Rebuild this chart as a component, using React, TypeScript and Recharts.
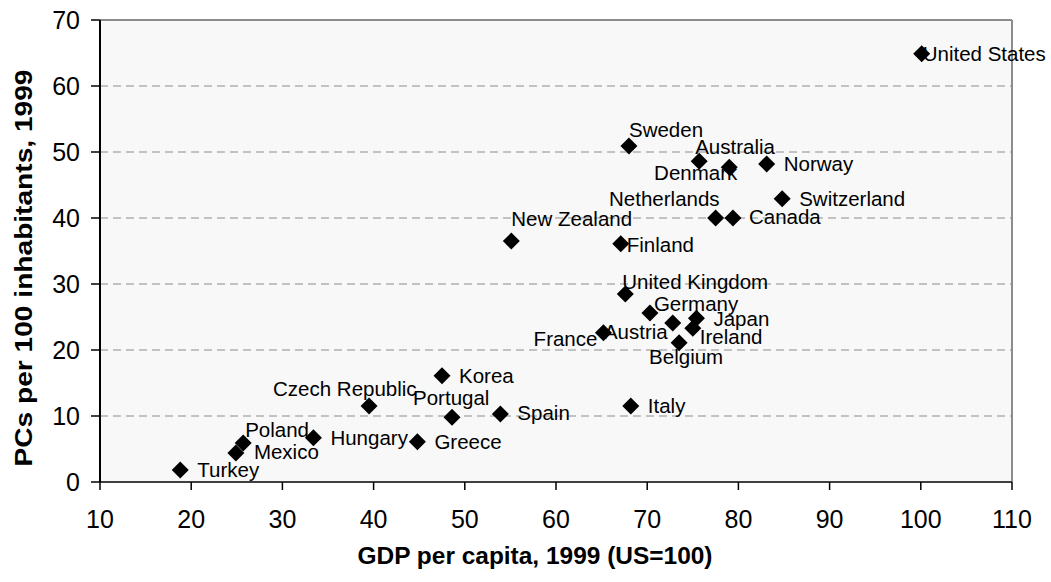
import React from 'react';
import { ScatterChart, Scatter, XAxis, YAxis, CartesianGrid, ReferenceLine, Label } from 'recharts';

const countries = [
  'United States', 'Sweden', 'Australia', 'Denmark', 'Norway', 'Switzerland', 'Netherlands', 'Canada',
  'New Zealand', 'Finland', 'United Kingdom', 'Germany', 'Austria', 'France', 'Japan', 'Ireland',
  'Belgium', 'Italy', 'Korea', 'Czech Republic', 'Portugal', 'Spain', 'Hungary', 'Greece',
  'Poland', 'Mexico', 'Turkey',
];
const gdpPerCapita = [
  100.1, 68.0, 75.7, 79.0, 83.1, 84.8, 77.5, 79.4,
  55.1, 67.1, 67.6, 70.3, 72.8, 65.2, 75.4, 75.0,
  73.5, 68.2, 47.5, 39.5, 48.6, 53.9, 33.4, 44.8,
  25.7, 24.9, 18.8,
];
const pcsPer100 = [
  64.9, 50.9, 48.6, 47.7, 48.2, 42.9, 40.0, 40.0,
  36.5, 36.1, 28.5, 25.6, 24.1, 22.6, 24.8, 23.3,
  21.1, 11.5, 16.1, 11.5, 9.8, 10.3, 6.7, 6.1,
  5.9, 4.4, 1.8,
];
const xTicks = [10, 20, 30, 40, 50, 60, 70, 80, 90, 100, 110];
const yTicks = [0, 10, 20, 30, 40, 50, 60, 70];

const data = countries.map((name, i) => ({ name, x: gdpPerCapita[i], y: pcsPer100[i] }));

// label placement relative to the marker (style only)
const labelPlacement: Record<string, { dx: number; dy: number; anchor: 'start' | 'end' }> = {
  'United States': { dx: 1, dy: 0, anchor: 'start' },
  Sweden: { dx: 0, dy: -16, anchor: 'start' },
  Australia: { dx: -4, dy: -14, anchor: 'start' },
  Denmark: { dx: 8, dy: 6, anchor: 'end' },
  Norway: { dx: 17, dy: 0, anchor: 'start' },
  Switzerland: { dx: 17, dy: 0, anchor: 'start' },
  Netherlands: { dx: 4, dy: -19, anchor: 'end' },
  Canada: { dx: 16, dy: -1, anchor: 'start' },
  'New Zealand': { dx: 0, dy: -22, anchor: 'start' },
  Finland: { dx: 6, dy: 1, anchor: 'start' },
  'United Kingdom': { dx: -3, dy: -12, anchor: 'start' },
  Germany: { dx: 4, dy: -9, anchor: 'start' },
  Austria: { dx: -5, dy: 9, anchor: 'end' },
  France: { dx: -6, dy: 6, anchor: 'end' },
  Japan: { dx: 17, dy: 1, anchor: 'start' },
  Ireland: { dx: 7, dy: 9, anchor: 'start' },
  Belgium: { dx: -30, dy: 14, anchor: 'start' },
  Italy: { dx: 17, dy: 0, anchor: 'start' },
  Korea: { dx: 17, dy: 0, anchor: 'start' },
  'Czech Republic': { dx: -96, dy: -17, anchor: 'start' },
  Portugal: { dx: -39, dy: -19, anchor: 'start' },
  Spain: { dx: 17, dy: -1, anchor: 'start' },
  Hungary: { dx: 17, dy: 0, anchor: 'start' },
  Greece: { dx: 17, dy: 0, anchor: 'start' },
  Poland: { dx: 2, dy: -13, anchor: 'start' },
  Mexico: { dx: 18, dy: -1, anchor: 'start' },
  Turkey: { dx: 17, dy: 0, anchor: 'start' },
};

const FONT = '"Liberation Sans", Arial, Helvetica, sans-serif';

const DiamondWithLabel = (props: any) => {
  const { cx, cy, payload } = props;
  const p = labelPlacement[payload.name] || { dx: 17, dy: 0, anchor: 'start' };
  const r = 8.5;
  return (
    <g>
      <polygon points={`${cx},${cy - r} ${cx + r},${cy} ${cx},${cy + r} ${cx - r},${cy}`} fill="#000" />
      <text
        x={cx + p.dx}
        y={cy + p.dy}
        dy="0.35em"
        textAnchor={p.anchor}
        fontSize={20.5}
        fontFamily={FONT}
        fill="#000"
      >
        {payload.name}
      </text>
    </g>
  );
};

const XTitle = (props: any) => {
  const vb = props.viewBox || { x: 100, y: 482, width: 912, height: 100 };
  return (
    <text
      x={vb.x + vb.width / 2 - 21}
      y={vb.y + 74}
      dy="0.35em"
      textAnchor="middle"
      fontSize={23}
      fontWeight="bold"
      fontFamily={FONT}
      fill="#000"
      textLength={355}
      lengthAdjust="spacingAndGlyphs"
    >
      GDP per capita, 1999 (US=100)
    </text>
  );
};

const YTitle = (props: any) => {
  const vb = props.viewBox || { x: 0, y: 20, width: 100, height: 462 };
  const cx = vb.x + 24;
  const cy = vb.y + vb.height / 2 + 17;
  return (
    <text
      x={cx}
      y={cy}
      dy="0.35em"
      textAnchor="middle"
      transform={`rotate(-90 ${cx} ${cy})`}
      fontSize={23}
      fontWeight="bold"
      fontFamily={FONT}
      fill="#000"
      textLength={397}
      lengthAdjust="spacingAndGlyphs"
    >
      PCs per 100 inhabitants, 1999
    </text>
  );
};

export default function App() {
  return (
    <div style={{ position: 'absolute', left: 0, top: 0, width: 1051, height: 582, background: '#fff' }}>
      <ScatterChart width={1051} height={582} margin={{ top: 20, right: 39, left: 0, bottom: 0 }}>
        <CartesianGrid
          horizontal={true}
          vertical={false}
          fill="#f8f8f8"
          stroke="#8c8c8c"
          strokeDasharray="8 5"
        />
        <XAxis
          type="number"
          dataKey="x"
          domain={[10, 110]}
          ticks={xTicks}
          interval={0}
          height={100}
          tickSize={8}
          tickMargin={20}
          axisLine={{ stroke: '#404040', strokeWidth: 2 }}
          tickLine={{ stroke: '#000', strokeWidth: 1.5 }}
          tick={{ fontSize: 25, fill: '#000', fontFamily: FONT }}
        >
          <Label content={XTitle} />
        </XAxis>
        <YAxis
          type="number"
          dataKey="y"
          domain={[0, 70]}
          ticks={yTicks}
          interval={0}
          width={100}
          tickSize={9}
          tickMargin={11}
          axisLine={{ stroke: '#000', strokeWidth: 2 }}
          tickLine={{ stroke: '#000', strokeWidth: 1.5 }}
          tick={{ fontSize: 25, fill: '#000', fontFamily: FONT }}
        >
          <Label content={YTitle} />
        </YAxis>
        <ReferenceLine y={70} stroke="#8c8c8c" strokeWidth={2} />
        <ReferenceLine x={110} stroke="#8c8c8c" strokeWidth={2} />
        <Scatter data={data} shape={DiamondWithLabel} isAnimationActive={false} />
      </ScatterChart>
    </div>
  );
}
